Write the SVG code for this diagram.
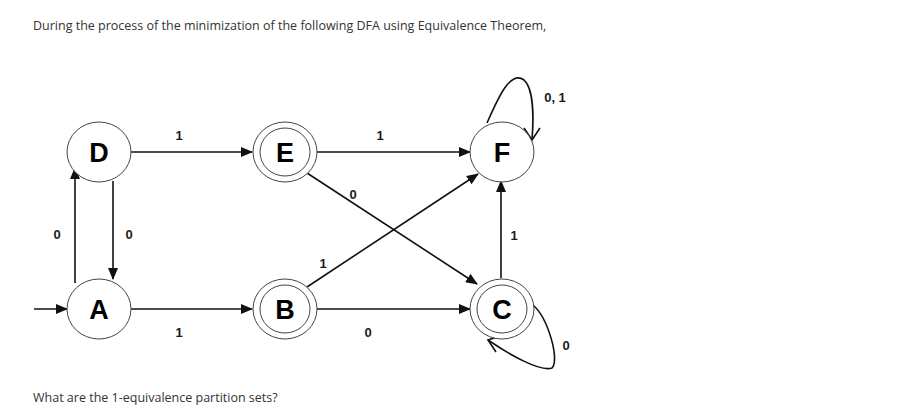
<svg xmlns="http://www.w3.org/2000/svg" width="901" height="414" viewBox="0 0 901 414">
<defs>
<marker id="ah" markerWidth="12" markerHeight="10" refX="11" refY="5" orient="auto" markerUnits="userSpaceOnUse">
<path d="M0,0 L12,5 L0,10 Z" fill="#111"/>
</marker>
<style>
.q{font-family:"Open Sans","Noto Sans",sans-serif;font-size:12.5px;fill:#333}
.st{fill:#fff;stroke:#444;stroke-width:1}
.nl{font-family:"Liberation Sans",Arial,sans-serif;font-weight:bold;font-size:27px;fill:#000;text-anchor:middle}
.el{font-family:"Liberation Sans",Arial,sans-serif;font-weight:bold;font-size:13px;fill:#1a1a1a;text-anchor:middle}
.ed{fill:none;stroke:#111;stroke-width:1.6}
</style>
</defs>
<rect width="901" height="414" fill="#fff"/>
<text class="q" x="33" y="30">During the process of the minimization of the following DFA using Equivalence Theorem,</text>
<text class="q" x="33" y="402">What are the 1-equivalence partition sets?</text>
<g id="edges">
<line class="ed" x1="34" y1="309" x2="67" y2="309" marker-end="url(#ah)"/>
<line class="ed" x1="131" y1="152" x2="252" y2="152" marker-end="url(#ah)"/>
<line class="ed" x1="317" y1="152" x2="470" y2="152" marker-end="url(#ah)"/>
<line class="ed" x1="131" y1="309" x2="252" y2="309" marker-end="url(#ah)"/>
<line class="ed" x1="317" y1="309" x2="470" y2="309" marker-end="url(#ah)"/>
<line class="ed" x1="113" y1="181" x2="113" y2="279" marker-end="url(#ah)"/>
<line class="ed" x1="75" y1="283" x2="75" y2="168" marker-end="url(#ah)"/>
<line class="ed" x1="307" y1="173" x2="477" y2="284" marker-end="url(#ah)"/>
<line class="ed" x1="307" y1="287" x2="478" y2="174" marker-end="url(#ah)"/>
<line class="ed" x1="501" y1="278" x2="501" y2="181" marker-end="url(#ah)"/>
<path class="ed" d="M487,123 C498,98 510,70 524,80 C533,88 534,115 532,140"/>
<path class="ed" d="M524,128 L532,140 L540,128"/>
<path class="ed" d="M533,305 C548,318 560,360 552,368 C540,372 510,355 488,340"/>
<path class="ed" d="M500,336 L488,340 L496,352"/>
<text class="el" x="179" y="140">1</text>
<text class="el" x="380" y="140">1</text>
<text class="el" x="555" y="102">0, 1</text>
<text class="el" x="57" y="239">0</text>
<text class="el" x="129" y="239">0</text>
<text class="el" x="179" y="337">1</text>
<text class="el" x="353" y="199">0</text>
<text class="el" x="323" y="268">1</text>
<text class="el" x="368" y="337">0</text>
<text class="el" x="514" y="240">1</text>
<text class="el" x="566" y="350">0</text>
</g>
<g id="D"><ellipse class="st" cx="99" cy="152" rx="32" ry="30"/><text class="nl" x="99" y="162">D</text></g>
<g id="E"><ellipse class="st" cx="285" cy="152" rx="32" ry="30"/><ellipse class="st" cx="285" cy="152" rx="25" ry="24"/><text class="nl" x="285" y="162">E</text></g>
<g id="F"><ellipse class="st" cx="502" cy="152" rx="32" ry="30"/><text class="nl" x="502" y="162">F</text></g>
<g id="A"><ellipse class="st" cx="99" cy="309" rx="32" ry="30"/><text class="nl" x="99" y="319">A</text></g>
<g id="B"><ellipse class="st" cx="285" cy="309" rx="32" ry="30"/><ellipse class="st" cx="285" cy="309" rx="25" ry="24"/><text class="nl" x="285" y="319">B</text></g>
<g id="C"><ellipse class="st" cx="502" cy="309" rx="32" ry="30"/><ellipse class="st" cx="502" cy="309" rx="25" ry="24"/><text class="nl" x="502" y="319">C</text></g>
</svg>
